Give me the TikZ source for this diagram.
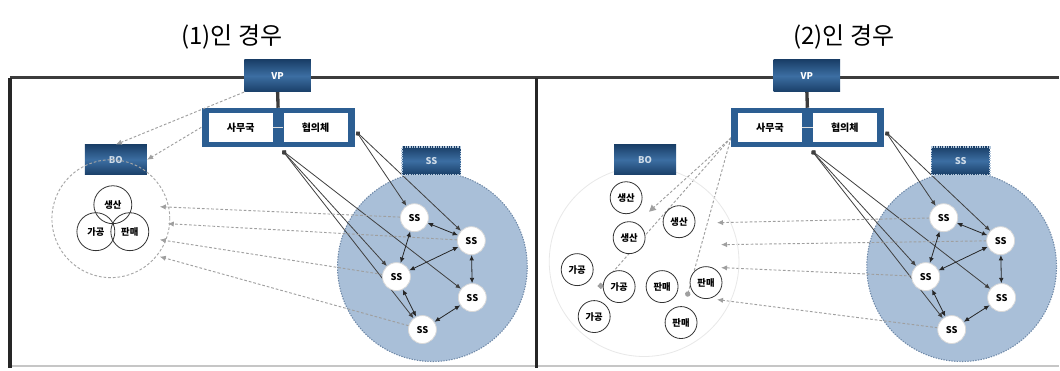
\documentclass[tikz,border=0pt]{standalone}
\usepackage{fontspec}
\newfontfamily\kr{Noto Sans CJK KR}
\usetikzlibrary{arrows.meta,calc}
\pgfdeclarelayer{bgzero}
\pgfdeclarelayer{bgone}
\pgfsetlayers{bgzero,bgone,main}
\definecolor{navyD}{HTML}{1A3F68}
\definecolor{navyL}{HTML}{3C6EA2}
\definecolor{frameB}{HTML}{2C5E92}
\definecolor{cirF}{HTML}{A9BFD8}
\definecolor{cirB}{HTML}{6F89A8}
\definecolor{frameG}{HTML}{3C3C3C}
\tikzset{
  darkbox/.style={rectangle, inner sep=0pt, top color=navyD, bottom color=navyD, middle color=navyL, font=\kr\fontsize{7}{8}\selectfont\bfseries},
  vpbox/.style={darkbox, minimum width=50pt, minimum height=24pt, text=white},
  bobox/.style={darkbox, minimum width=46.5pt, minimum height=22.5pt, text=white!75!navyL},
  ssbox/.style={darkbox, minimum width=44pt, minimum height=21pt, text=white!75!navyL, draw=white!60!navyL, line width=1.2pt, dash pattern=on 1pt off 0.8pt},
  outerbox/.style={rectangle, inner sep=0pt, fill=frameB, minimum width=115pt, minimum height=29pt},
  inbox/.style={rectangle, inner sep=0pt, fill=white, minimum width=48pt, minimum height=22pt, font=\kr\fontsize{7.5}{8}\selectfont\bfseries},
  ssnode/.style={circle, inner sep=0pt, minimum size=21pt, fill=white, draw=white!85!black, line width=0.6pt, font=\kr\fontsize{7}{8}\selectfont\bfseries},
  venn/.style={circle, inner sep=0pt, minimum size=28.5pt, draw=black!80, line width=0.6pt, font=\kr\fontsize{7}{8}\selectfont\bfseries},
  smallc/.style={circle, inner sep=0pt, minimum size=24pt, fill=white, draw=black!80, line width=0.6pt, font=\kr\fontsize{7}{8}\selectfont\bfseries},
  bigc/.style={circle, inner sep=0pt, minimum size=142.5pt, fill=cirF, draw=cirB, line width=0.8pt, dash pattern=on 1pt off 1pt},
  netarrow/.style={black!85, line width=0.6pt, {Latex[length=4pt,width=3.5pt]}-{Latex[length=4pt,width=3.5pt]}},
  boxline/.style={black!75, line width=0.6pt, {Circle[length=3.5pt]}-{Latex[length=4pt,width=3.5pt]}},
  dashg/.style={gray!75, line width=0.7pt, dash pattern=on 2pt off 1.5pt},
  dasharrow/.style={dashg, -{Latex[length=4.5pt,width=4pt]}, draw=gray!75},
  vpline/.style={frameG, line width=2.5pt},
  titlef/.style={font=\kr\fontsize{18}{20}\selectfont, inner sep=0pt},
}
\newcommand\panelcommon[1]{%
  \begin{pgfonlayer}{bgzero}
    \node[bigc] (#1big) at (433,267) {};
  \end{pgfonlayer}
  \node[outerbox] (#1ob) at (278.5,127.5) {};
  \node[inbox] (#1sa) at (241,127.5) {사무국};
  \node[inbox] (#1hy) at (316,127.5) {협의체};
  \draw[white!75!gray, line width=0.5pt] (#1sa.east) -- (#1hy.west);
  \node[vpbox] (#1vp) at (278,76) {VP};
  \draw[vpline] (#1vp.south) -- (#1ob.north);
  \node[bobox] (#1bo) at (116,160) {BO};
  \node[ssnode] (#1a) at (415,218) {SS};
  \node[ssnode] (#1b) at (472,241) {SS};
  \node[ssnode] (#1c) at (397,277) {SS};
  \node[ssnode] (#1d) at (473,298) {SS};
  \node[ssnode] (#1e) at (423,330) {SS};
  \node[ssbox] (#1ssb) at (432,161) {SS};
  \coordinate (#1B) at (283,151);
  \coordinate (#1H) at (357,132);
  \begin{pgfonlayer}{bgone}
    \draw[boxline] (#1B) -- (#1c);
    \draw[boxline] (#1B) -- (#1e);
    \draw[boxline] (#1B) -- (#1d);
    \draw[boxline] (#1H) -- (#1a);
    \draw[boxline] (#1H) -- (#1b);
  \end{pgfonlayer}
  \draw[netarrow] (#1a) -- (#1b);
  \draw[netarrow] (#1a) -- (#1c);
  \draw[netarrow] (#1b) -- (#1c);
  \draw[netarrow] (#1b) -- (#1d);
  \draw[netarrow] (#1c) -- (#1e);
  \draw[netarrow] (#1d) -- (#1e);
}
\begin{document}
\begin{tikzpicture}[x=0.75pt,y=-0.75pt]
\begin{pgfonlayer}{bgzero}
  \path[fill=white] (0,0) rectangle (1060,369);
  \draw[gray!45, line width=1.5pt] (10,367) -- (1060,367);
  \draw[frameG, line width=2.2pt] (10,78) -- (1060,78);
  \draw[black!85, line width=2.5pt] (10,78) -- (10,369);
  \draw[black!85, line width=2.5pt] (537,78) -- (537,369);
\end{pgfonlayer}
\useasboundingbox (0,0) rectangle (1060,369);
\node[titlef] (t1) at (232,37) {(1)인 경우};
\node[titlef] (t2) at (845,37) {(2)인 경우};
% ---------- left panel ----------
\begin{scope}
  \panelcommon{L}
  \node[circle, inner sep=0pt, minimum size=88.5pt, draw=gray!70, line width=0.7pt, dash pattern=on 2pt off 1.5pt] (Ldc) at (111,219) {};
  \node[venn] (Lp1) at (113,205) {생산};
  \node[venn] (Lp2) at (96,232) {가공};
  \node[venn] (Lp3) at (130,232) {판매};
  \draw[dasharrow] (Lvp.south west) -- (Lbo.north);
  \draw[dasharrow] (Lob.west) -- (Lbo.east);
  \coordinate (Lt1) at (160,207);
  \coordinate (Lt2) at (168,224);
  \coordinate (Lt3) at (160,240);
  \coordinate (Lt4) at (160,257);
  \begin{pgfonlayer}{bgone}
    \draw[dasharrow] (La) -- (Lt1);
    \draw[dasharrow] (Lb) -- (Lt2);
    \draw[dasharrow] (Lc) -- (Lt3);
    \draw[dasharrow] (Le) -- (Lt4);
  \end{pgfonlayer}
\end{scope}
% ---------- right panel ----------
\begin{scope}[xshift=397.5pt]
  \node[circle, inner sep=0pt, minimum size=142.5pt, draw=gray!18, line width=0.6pt] (Rfc) at (115,262) {};
  \panelcommon{R}
  \node[smallc] (Rq1) at (97,198) {생산};
  \node[smallc] (Rq2) at (150,222) {생산};
  \node[smallc] (Rq3) at (100,238) {생산};
  \node[smallc] (Rq4) at (48,270) {가공};
  \node[smallc] (Rq5) at (90,287) {가공};
  \node[smallc] (Rq6) at (133,287) {판매};
  \node[smallc] (Rq7) at (177,283) {판매};
  \node[smallc] (Rq8) at (65,317) {가공};
  \node[smallc] (Rq9) at (152,323) {판매};
  \coordinate (Rs0) at (202,138);
  \coordinate (Rf1) at (120,212);
  \coordinate (Rf2) at (70,288);
  \coordinate (Rf3) at (158,297);
  \begin{pgfonlayer}{bgone}
    \draw[dashg, -{Triangle[length=5pt,width=5pt]}] (Rs0) -- (Rf1);
    \draw[dashg, -{Square[length=3.5pt]}, draw=gray!75] (Rs0) -- (Rf2);
    \draw[dashg, -{Circle[length=4pt]}] (Rs0) -- (Rf3);
  \end{pgfonlayer}
  \coordinate (Rt1) at (188,223);
  \coordinate (Rt2) at (192,245);
  \coordinate (Rt3) at (192,268);
  \coordinate (Rt4) at (188,300);
  \begin{pgfonlayer}{bgone}
    \draw[dasharrow] (Ra) -- (Rt1);
    \draw[dasharrow] (Rb) -- (Rt2);
    \draw[dasharrow] (Rc) -- (Rt3);
    \draw[dasharrow] (Re) -- (Rt4);
  \end{pgfonlayer}
\end{scope}
\end{tikzpicture}
\end{document}
